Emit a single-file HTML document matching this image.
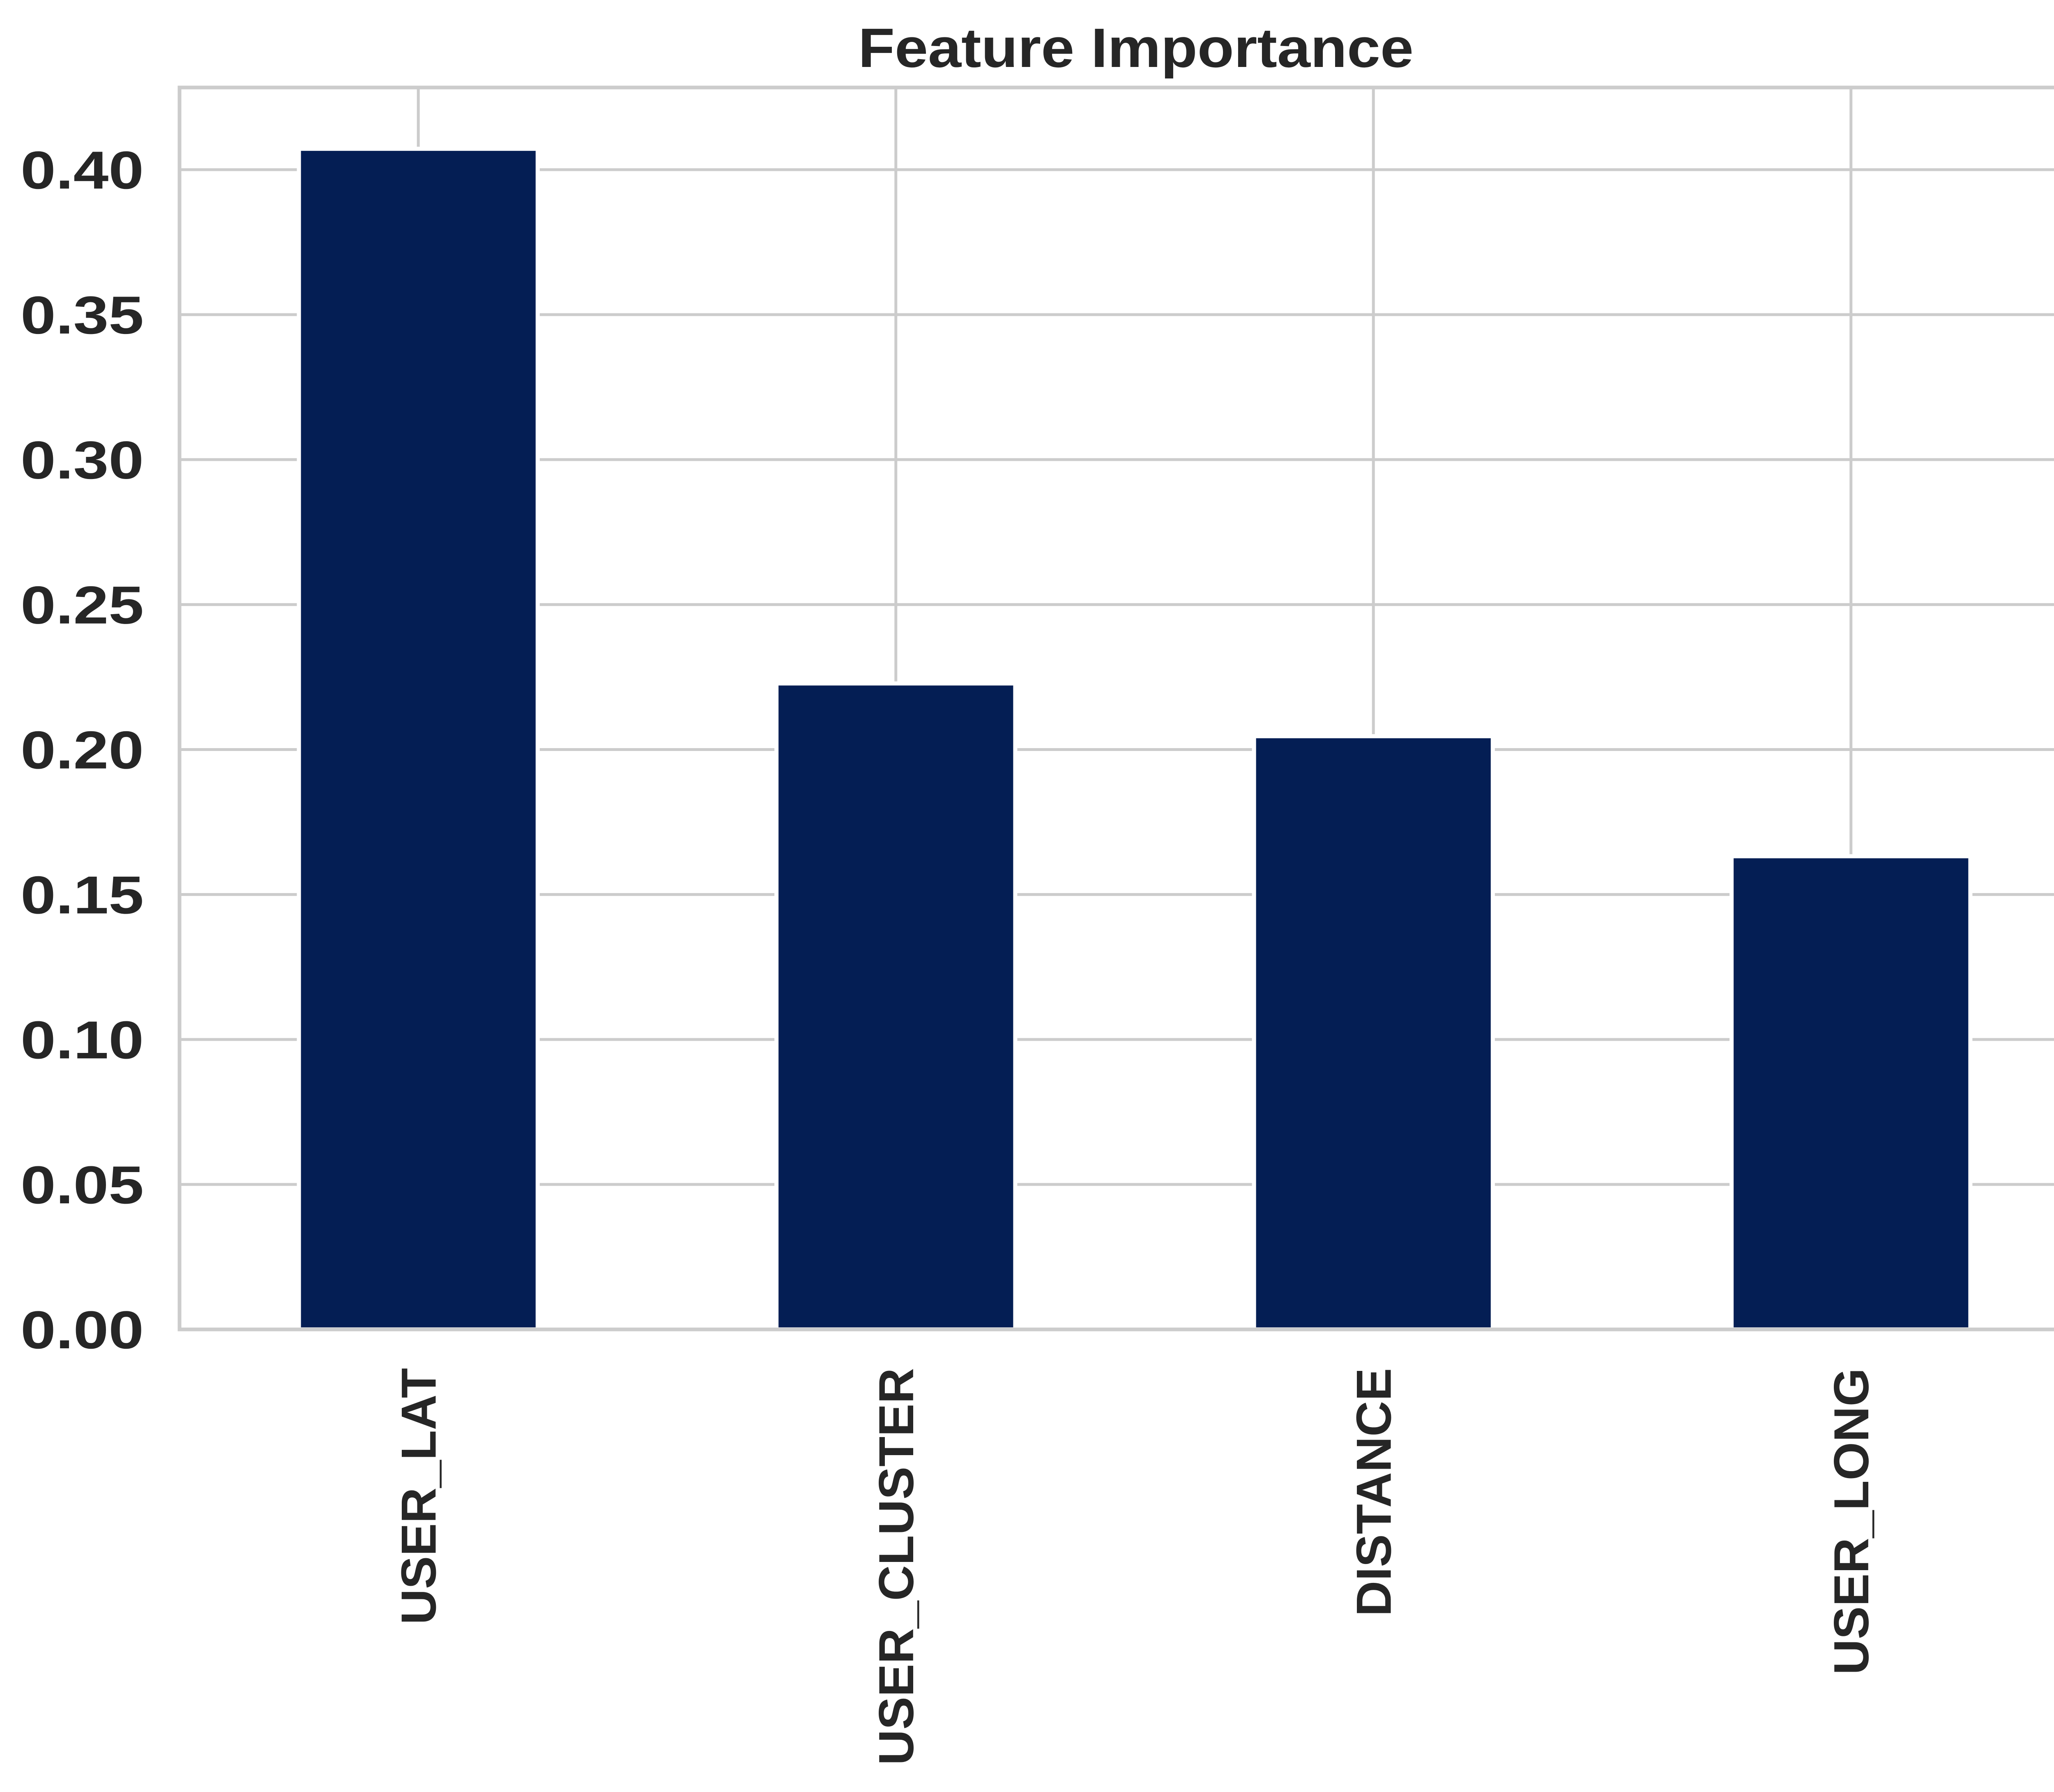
<!DOCTYPE html>
<html><head><meta charset="utf-8"><style>html,body{margin:0;padding:0;background:#fff}svg{display:block}</style></head>
<body>
<svg id="chart" width="5146" height="4362" viewBox="0 0 5146 4362" xmlns="http://www.w3.org/2000/svg" font-family="'Liberation Sans', sans-serif">
<rect width="5146" height="4362" fill="#fff"/>
<g id="grid"></g>
<g id="bars"></g>
<rect x="437" y="213" width="4650" height="3023" fill="none" stroke="#cccccc" stroke-width="9"/>
<g id="yticks"></g>
<g id="xticks"></g>
<text x="2765" y="163" text-anchor="middle" font-size="135" font-weight="bold" fill="#262626" textLength="1352" lengthAdjust="spacingAndGlyphs">Feature Importance</text>
</svg>
<script>
const categories = ["USER_LAT", "USER_CLUSTER", "DISTANCE", "USER_LONG"];
const importances = [0.4072, 0.2228, 0.2046, 0.1632];
const yTicks = [0, 0.05, 0.10, 0.15, 0.20, 0.25, 0.30, 0.35, 0.40];
const yTickLabels = ["0.00","0.05","0.10","0.15","0.20","0.25","0.30","0.35","0.40"];

const NS = "http://www.w3.org/2000/svg";
const L = 437, R = 5087, T = 213, B = 3236;
const yMax = 0.4 * (B - T) / (B - 413);
function yScale(v){ return B - v / yMax * (B - T); }
const step = (R - L) / categories.length;
function xScale(i){ return L + step * (i + 0.5); }
function mk(tag, attrs){ const e = document.createElementNS(NS, tag); for (const k in attrs) e.setAttribute(k, attrs[k]); return e; }

const grid = document.getElementById('grid');
yTicks.forEach((v, i) => {
  const ln = mk('line', {x1: L, x2: R, y1: yScale(v), y2: yScale(v), stroke: '#cccccc', 'stroke-width': 7});
  
  
  grid.appendChild(ln);
  const t = mk('text', {x: 350, y: yScale(v) + 46, 'text-anchor': 'end', 'font-size': 130, 'font-weight': 'bold', fill: '#262626', textLength: 300, lengthAdjust: 'spacingAndGlyphs'});
  t.textContent = yTickLabels[i];
  
  
  document.getElementById('yticks').appendChild(t);
});
categories.forEach((c, i) => {
  const ln = mk('line', {x1: xScale(i), x2: xScale(i), y1: T, y2: B, stroke: '#cccccc', 'stroke-width': 7});
  
  
  grid.appendChild(ln);
});
const bars = document.getElementById('bars');
const bw = step * 0.5;
categories.forEach((c, i) => {
  const y = yScale(importances[i]);
  const r = mk('rect', {x: xScale(i) - bw/2, y: y, width: bw, height: B - y, fill: '#041e54', stroke: '#ffffff', 'stroke-width': 10});
  
  
  bars.appendChild(r);
  const cx = xScale(i) + 42, ty = 3330;
  const t = mk('text', {x: cx, y: ty, transform: 'rotate(-90 ' + cx + ' ' + ty + ')', 'text-anchor': 'end', 'font-size': 120, 'font-weight': 'bold', fill: '#262626'});
  t.textContent = c;
  
  
  document.getElementById('xticks').appendChild(t);
});
</script>
</body></html>
